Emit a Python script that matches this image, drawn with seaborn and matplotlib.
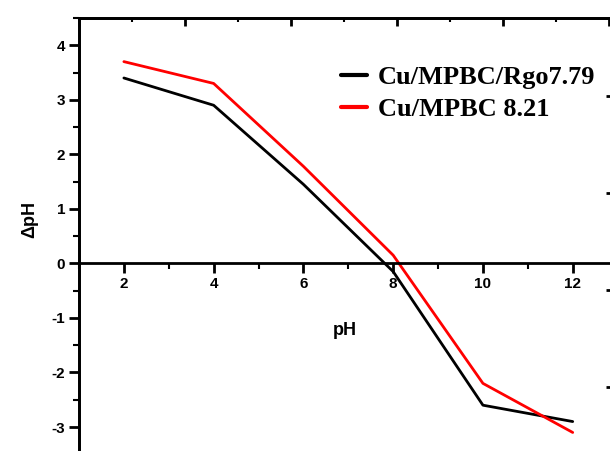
import pandas as pd
import matplotlib.pyplot as plt
import seaborn as sns
from matplotlib.ticker import MultipleLocator

# 数据: pH 与 ΔpH
ph = [2, 4, 6, 8, 10, 12]
rgo_dph = [3.4, 2.9, 1.45, -0.15, -2.6, -2.9]
mpbc_dph = [3.7, 3.3, 1.78, 0.15, -2.2, -3.1]
labels = ['Cu/MPBC/Rgo7.79', 'Cu/MPBC 8.21']
colors = ['black', 'red']

data = pd.DataFrame({
    'pH': ph + ph,
    'dpH': rgo_dph + mpbc_dph,
    'sample': [labels[0]] * len(ph) + [labels[1]] * len(ph),
})

sns.set_style('white')
plt.rcParams['font.family'] = ['Liberation Sans', 'DejaVu Sans']
plt.rcParams['axes.unicode_minus'] = False
plt.rcParams['text.color'] = 'black'
plt.rcParams['axes.labelcolor'] = 'black'
plt.rcParams['xtick.color'] = 'black'
plt.rcParams['ytick.color'] = 'black'

fig = plt.figure(figsize=(6.1, 4.51), dpi=100)
rect = [79 / 610, 0, 535 / 610, 433 / 451]
ax = fig.add_axes(rect)

sns.lineplot(data=data, x='pH', y='dpH', hue='sample', palette=colors,
             linewidth=2, ax=ax, legend=False)

ax.set_xlim(1, 12.92)
ax.set_ylim(-3.44, 4.5)

# 坐标轴样式
for side in ['left', 'top', 'right', 'bottom']:
    ax.spines[side].set_color('black')
    ax.spines[side].set_linewidth(2)
ax.spines['bottom'].set_position(('data', 0))

ax.set_xticks([2, 4, 6, 8, 10, 12])
ax.xaxis.set_minor_locator(MultipleLocator(1))
ax.yaxis.set_major_locator(MultipleLocator(1))
ax.yaxis.set_minor_locator(MultipleLocator(0.5))
ax.tick_params(which='major', direction='out', length=7, width=2,
               labelsize=11, colors='black', bottom=True, left=True,
               top=False, right=False, pad=3)
ax.tick_params(which='minor', direction='out', length=4, width=1.5,
               bottom=True, left=True, top=False, right=False)
for t in ax.get_xticklabels() + ax.get_yticklabels():
    t.set_fontweight('bold')

ax.set_xlabel('pH', fontsize=13, fontweight='bold')
ax.xaxis.set_label_coords((345 - 79) / 535, (451 - 322) / 433)
ax.set_ylabel('ΔpH', fontsize=13, fontweight='bold')
ax.yaxis.set_label_coords(-(79 - 38) / 535, (451 - 220) / 433)

# 顶部和右侧的另一套刻度 (不显示数字), 用一个透明的坐标轴来画
frame = fig.add_axes(rect, label='frame')
frame.patch.set_visible(False)
frame.set_xlim(0, 535 / 53)
frame.set_ylim(-1.32, 7.61)
frame.xaxis.set_major_locator(MultipleLocator(2))
frame.xaxis.set_minor_locator(MultipleLocator(1))
frame.yaxis.set_major_locator(MultipleLocator(2))
frame.yaxis.set_minor_locator(MultipleLocator(1))
frame.tick_params(which='major', direction='in', length=6, width=2, color='black')
frame.tick_params(which='minor', direction='in', length=3, width=1.5, color='black')
frame.tick_params(which='both', top=True, right=True, bottom=False, left=False,
                  labeltop=False, labelright=False, labelbottom=False, labelleft=False)
frame.spines['bottom'].set_position(('outward', 20))
frame.spines['left'].set_color('black')
frame.spines['left'].set_linewidth(2)
frame.spines['top'].set_color('black')
frame.spines['top'].set_linewidth(2)

# 图例
handles = [plt.Line2D([], [], color=c, linewidth=3) for c in colors]
fig.legend(handles, labels, loc='upper left', bbox_to_anchor=(341 / 610, 1 - 66 / 451),
           frameon=False, borderpad=0, borderaxespad=0, handlelength=1.0,
           handletextpad=0.4, labelspacing=0.3,
           prop={'family': 'Liberation Serif', 'weight': 'bold', 'size': 19})

plt.savefig('out.png', dpi=100)
